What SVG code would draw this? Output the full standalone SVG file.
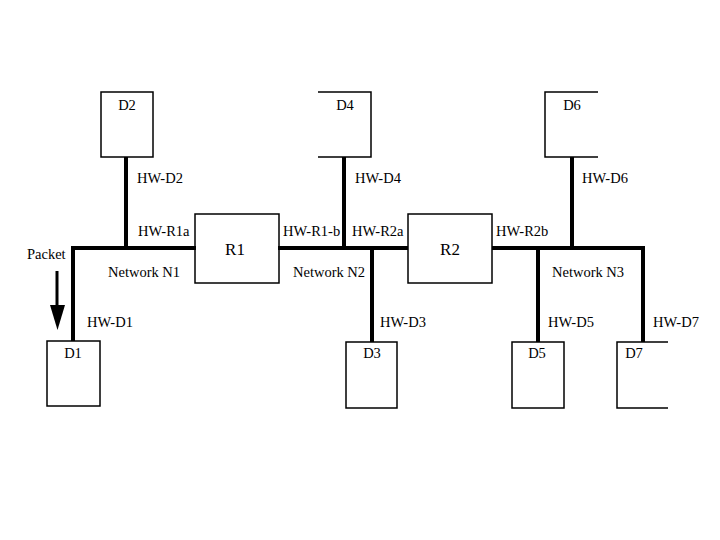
<svg xmlns="http://www.w3.org/2000/svg" width="720" height="540" viewBox="0 0 720 540" font-family="'Liberation Serif','Times New Roman',serif">
<style>
.box{fill:none;stroke:#000;stroke-width:1.5}
.edge{fill:none;stroke:#000;stroke-width:1.5}
.net{fill:none;stroke:#000;stroke-width:4}
text{font-family:"Liberation Serif","Times New Roman",serif;font-size:14.5px;fill:#000}
.c{text-anchor:middle}
.r{font-size:17px}
</style>
<rect width="720" height="540" fill="#fff"/>
<g id="connectors">
<polyline class="net" points="73,341 73,248 196,248"/>
<line class="net" x1="126" y1="157" x2="126" y2="248"/>
<line class="net" x1="278" y1="248" x2="408" y2="248"/>
<line class="net" x1="344" y1="157" x2="344" y2="248"/>
<line class="net" x1="372" y1="248" x2="372" y2="342"/>
<polyline class="net" points="492,248 643,248 643,342"/>
<line class="net" x1="572" y1="157" x2="572" y2="248"/>
<line class="net" x1="538" y1="248" x2="538" y2="342"/>
</g>
<g id="packet">
<line x1="57" y1="271" x2="57" y2="306" stroke="#000" stroke-width="3"/>
<polygon points="50,305 65,305 57.5,330" fill="#000"/>
<text x="27" y="259">Packet</text>
</g>
<g id="labels">
<text x="137" y="183">HW-D2</text>
<text x="138" y="236">HW-R1a</text>
<text x="108" y="277">Network N1</text>
<text x="87" y="327">HW-D1</text>
<text x="283" y="236">HW-R1-b</text>
<text x="352" y="236">HW-R2a</text>
<text x="355" y="183">HW-D4</text>
<text x="293" y="277">Network N2</text>
<text x="380" y="327">HW-D3</text>
<text x="496" y="236">HW-R2b</text>
<text x="582" y="183">HW-D6</text>
<text x="552" y="277">Network N3</text>
<text x="548" y="327">HW-D5</text>
<text x="653" y="327">HW-D7</text>
</g>
<g id="D2"><rect class="box" x="101" y="92" width="52" height="65"/><text class="c" x="127" y="110">D2</text></g>
<g id="D1"><rect class="box" x="47" y="341" width="53" height="65"/><text class="c" x="73" y="358">D1</text></g>
<g id="R1"><rect class="box" x="195" y="214" width="84" height="69"/><text class="c r" x="235" y="255">R1</text></g>
<g id="D4"><polyline class="edge" points="318,92 371,92 371,157 318,157"/><text class="c" x="345" y="110">D4</text></g>
<g id="D3"><rect class="box" x="346" y="342" width="51" height="66"/><text class="c" x="372" y="358">D3</text></g>
<g id="R2"><rect class="box" x="408" y="214" width="84" height="69"/><text class="c r" x="450" y="255">R2</text></g>
<g id="D6"><polyline class="edge" points="598,92 545,92 545,157 598,157"/><text class="c" x="572" y="110">D6</text></g>
<g id="D5"><rect class="box" x="512" y="342" width="52" height="66"/><text class="c" x="537" y="358">D5</text></g>
<g id="D7"><polyline class="edge" points="668,342 617,342 617,408 668,408"/><text class="c" x="634" y="358">D7</text></g>
</svg>
